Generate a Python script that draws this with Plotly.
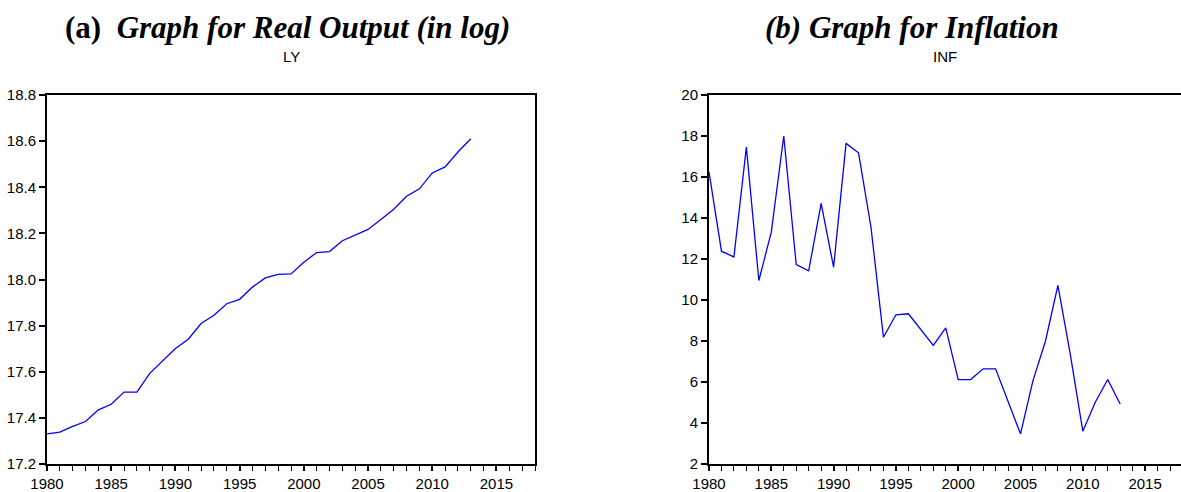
import plotly.graph_objects as go

years = list(range(1980, 2014))
ly = [17.331, 17.338, 17.363, 17.384, 17.435, 17.459, 17.512, 17.512, 17.593, 17.647,
      17.701, 17.741, 17.809, 17.845, 17.895, 17.914, 17.967, 18.007, 18.022, 18.024,
      18.075, 18.117, 18.121, 18.168, 18.191, 18.217, 18.260, 18.305, 18.361, 18.393,
      18.462, 18.488, 18.553, 18.610]
inf = [16.25, 12.38, 12.10, 17.46, 10.95, 13.31, 18.00, 11.73, 11.42, 14.71,
       11.60, 17.64, 17.18, 13.55, 8.18, 9.28, 9.33, 8.56, 7.79, 8.64,
       6.12, 6.12, 6.64, 6.64, 5.06, 3.47, 6.07, 7.99, 10.71, 7.34,
       3.60, 5.01, 6.12, 4.93]

W, H = 1181, 492
tickfont = dict(family="Liberation Sans Narrow, Arial Narrow, Liberation Sans, Arial", size=15, color="black")

fig = go.Figure()
fig.add_trace(go.Scatter(x=years, y=ly, mode="lines", line=dict(color="#0000FF", width=1.3),
                         xaxis="x", yaxis="y", showlegend=False))
fig.add_trace(go.Scatter(x=years, y=inf, mode="lines", line=dict(color="#0000FF", width=1.3),
                         xaxis="x2", yaxis="y2", showlegend=False))

ydom = [28 / H, 397 / H]

def xax(domain, rng, anchor):
    return dict(domain=domain, range=rng, anchor=anchor, tickmode="linear", tick0=1980, dtick=5,
                ticks="outside", ticklen=5, tickwidth=1.5, tickcolor="black", automargin=False,
                minor=dict(dtick=1, tick0=1980, ticks="outside", ticklen=5, tickwidth=1.2, tickcolor="black"),
                showline=True, linecolor="black", linewidth=2, mirror=True,
                showgrid=False, zeroline=False, tickfont=tickfont)

def yax(rng, dtick, anchor, fmt, mirror):
    return dict(domain=ydom, range=rng, anchor=anchor, tickmode="linear", tick0=rng[0], dtick=dtick,
                ticks="outside", ticklen=6, tickwidth=1.5, tickcolor="black", tickformat=fmt,
                automargin=False,
                showline=True, linecolor="black", linewidth=2, mirror=mirror,
                showgrid=False, zeroline=False, tickfont=tickfont)

fig.update_layout(
    width=W, height=H,
    margin=dict(l=0, r=0, t=0, b=0, autoexpand=False),
    paper_bgcolor="white", plot_bgcolor="white",
    xaxis=xax([47 / W, 535 / W], [1980, 2018], "y"),
    yaxis=yax([17.2, 18.8], 0.2, "x", ".1f", True),
    xaxis2=xax([709 / W, 1.0], [1980, 2017.88], "y2"),
    yaxis2=yax([2, 20], 2, "x2", "d", False),
)

serif = "Liberation Serif, Times New Roman, serif"
fig.add_annotation(x=287 / W, y=1 - 27 / H, xref="paper", yref="paper", showarrow=False,
                   text="<b>(a)</b>\u00a0\u00a0<b><i>Graph for Real Output (in log)</i></b>",
                   font=dict(family=serif, size=31, color="black"), xanchor="center", yanchor="middle")
fig.add_annotation(x=912 / W, y=1 - 27 / H, xref="paper", yref="paper", showarrow=False,
                   text="<b><i>(b) Graph for Inflation</i></b>",
                   font=dict(family=serif, size=31, color="black"), xanchor="center", yanchor="middle")
fig.add_annotation(x=291 / W, y=1 - 57 / H, xref="paper", yref="paper", showarrow=False,
                   text="LY", font=tickfont, xanchor="center", yanchor="middle")
fig.add_annotation(x=945 / W, y=1 - 57 / H, xref="paper", yref="paper", showarrow=False,
                   text="INF", font=tickfont, xanchor="center", yanchor="middle")

fig.write_html("out.html", config={"displayModeBar": False},
               post_script="document.body.style.margin='0';document.body.style.overflow='hidden';")
